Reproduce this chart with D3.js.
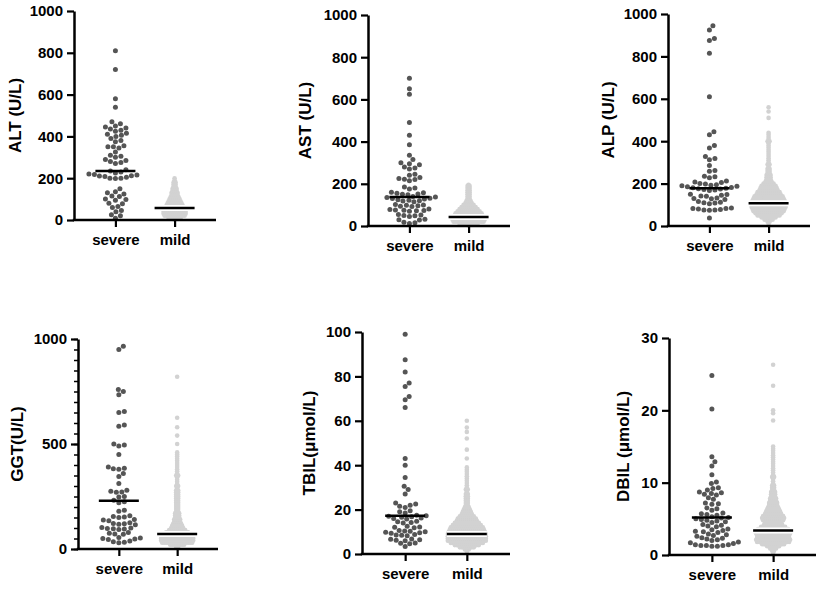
<!DOCTYPE html>
<html>
<head>
<meta charset="utf-8">
<script src="https://cdn.jsdelivr.net/npm/d3@7"></script>
<style>
  body { margin: 0; background: #fff; }
  text { font-family: Arial, "Liberation Sans", sans-serif; font-weight: bold; }
</style>
</head>
<body>
<div id="chart"></div>
<script>
// categories
const groups = ["severe", "mild"];

// severe: individual values
const altSevere = [810, 720, 580, 540, 470, 460, 450, 445, 440, 435, 430, 425, 415, 410, 405, 400, 390, 380, 375, 355, 350, 350, 345, 325, 310, 305, 300, 290, 285, 280, 275, 270, 240, 235, 230, 225, 220, 218, 215, 212, 210, 208, 205, 200, 200, 198, 150, 135, 130, 125, 115, 112, 100, 98, 95, 80, 78, 65, 60, 45, 40, 25, 20, 8];
const astSevere = [700, 650, 625, 490, 430, 385, 335, 315, 300, 295, 290, 280, 275, 270, 245, 240, 230, 225, 222, 220, 215, 185, 180, 175, 160, 158, 155, 152, 150, 148, 140, 138, 135, 132, 130, 128, 125, 122, 120, 118, 115, 102, 100, 98, 96, 94, 92, 80, 78, 76, 75, 73, 72, 70, 55, 52, 50, 48, 45, 32, 30, 28, 18, 15, 12];
const alpSevere = [945, 925, 885, 875, 815, 610, 445, 430, 380, 368, 328, 318, 312, 285, 262, 258, 235, 232, 228, 212, 208, 205, 200, 198, 195, 192, 190, 188, 185, 182, 180, 178, 176, 175, 172, 170, 168, 150, 148, 145, 142, 140, 132, 130, 128, 125, 115, 112, 110, 108, 105, 85, 83, 82, 80, 78, 76, 75, 74, 38];
const ggtSevere = [965, 950, 760, 750, 735, 655, 650, 590, 585, 500, 495, 490, 450, 390, 385, 382, 380, 360, 345, 312, 280, 275, 272, 270, 250, 248, 232, 225, 220, 185, 180, 158, 155, 152, 150, 140, 138, 135, 125, 122, 120, 118, 115, 102, 100, 98, 97, 95, 93, 78, 75, 72, 70, 55, 52, 50, 48, 45, 38, 35, 32, 30];
const tbilSevere = [99, 87.5, 82, 77, 75.5, 71, 69.5, 66, 43, 40, 34.5, 30.5, 29, 27, 23, 22.5, 22, 21.5, 21, 19.5, 19, 18.5, 17.5, 17.2, 17, 16.8, 16.5, 16.2, 16, 15.8, 14.8, 14.5, 14.2, 14, 12.5, 12.2, 12, 11.8, 10.6, 10.4, 10.2, 10, 9.8, 9.6, 9.4, 8.8, 8.6, 8.4, 8.2, 6.8, 6.6, 6.4, 6.2, 6, 5, 4.8, 4.6, 3.4];
const dbilSevere = [24.8, 20.2, 13.6, 12.9, 12.3, 11.1, 10.1, 9.9, 9.3, 9.2, 9.0, 8.7, 8.6, 8.5, 8.4, 8.3, 7.9, 7.7, 7.2, 7.1, 7.0, 6.5, 6.4, 6.2, 5.8, 5.7, 5.6, 5.5, 5.3, 5.2, 5.1, 5.0, 4.9, 4.8, 4.7, 4.6, 4.5, 4.2, 4.1, 4.0, 3.9, 3.6, 3.5, 3.4, 3.3, 3.2, 3.1, 2.9, 2.8, 2.7, 2.6, 2.4, 2.3, 2.2, 2.1, 2.0, 1.8, 1.7, 1.6, 1.4, 1.4, 1.3, 1.3, 1.3, 1.2, 1.2];

const altMild = [[200,1],[190,1],[180,2],[170,2],[160,2],[150,3],[140,3],[130,4],[120,4],[110,5],[100,6],[90,7],[80,8],[70,9],[60,10],[50,11],[40,12],[30,12],[20,11],[10,7],[2,1]];
const astMild = [[195,1],[190,2],[180,2],[170,2],[160,2],[150,2],[140,2],[130,2],[120,3],[110,4],[100,6],[90,8],[80,10],[70,12],[60,14],[50,15],[40,16],[30,17],[20,16],[10,10],[2,1]];
const alpMild = [[560,1],[540,1],[510,1],[440,1],[430,1],[420,1],[410,1],[400,2],[390,1],[380,1],[370,1],[360,1],[350,1],[340,1],[330,1],[320,1],[310,1],[300,1],[290,2],[280,1],[270,2],[260,2],[250,2],[240,3],[230,3],[220,3],[210,4],[200,6],[190,8],[180,9],[170,10],[160,12],[150,13],[140,15],[130,16],[120,17],[110,18],[100,18],[90,18],[80,17],[70,16],[60,14],[50,12],[40,8],[30,5],[20,2],[10,1]];
const ggtMild = [[820,1],[625,1],[580,1],[540,1],[500,1],[460,1],[450,1],[440,1],[430,1],[420,1],[410,1],[400,1],[390,1],[380,1],[370,1],[360,1],[350,2],[340,1],[330,1],[320,1],[310,1],[300,2],[290,1],[280,2],[270,2],[260,2],[250,2],[240,2],[230,2],[220,2],[210,2],[200,2],[190,2],[180,2],[170,3],[160,3],[150,3],[140,4],[130,4],[120,5],[110,6],[100,7],[90,9],[80,12],[70,15],[60,17],[50,17],[40,17],[30,16],[20,8],[10,2]];
const tbilMild = [[60,1],[57,1],[55,1],[52,1],[47,1],[43,1],[39,1],[38,1],[37,1],[36,1],[35,1],[34,1],[33,1],[32,1],[31,1],[30,1],[29,2],[28,1],[27,2],[26,2],[25,2],[24,2],[23,2],[22,2],[21,3],[20,4],[19,5],[18,6],[17,8],[16,10],[15,11],[14,13],[13,15],[12,17],[11,18],[10,19],[9,20],[8,20],[7,20],[6,20],[5,17],[4,13],[3,8],[2,3],[1,1]];
const dbilMild = [[26.3,1],[23.4,1],[20.0,1],[19.6,1],[18.6,1],[15.0,1],[14.7,1],[14.4,1],[14.1,1],[13.8,1],[13.5,1],[13.2,1],[12.9,1],[12.6,1],[12.3,1],[12.0,1],[11.7,1],[11.4,1],[11.1,1],[10.8,2],[10.5,1],[10.2,1],[9.9,1],[9.6,2],[9.3,2],[9.0,2],[8.7,3],[8.4,3],[8.1,3],[7.8,4],[7.5,4],[7.2,5],[6.9,5],[6.6,6],[6.3,7],[6.0,8],[5.7,9],[5.4,11],[5.1,12],[4.8,11],[4.5,9],[4.2,10],[3.9,13],[3.6,16],[3.3,18],[3.0,18],[2.7,17],[2.4,17],[2.1,18],[1.8,17],[1.5,12],[1.2,7],[0.9,4],[0.6,2],[0.3,1],[0.1,1]];

// medians (severe, mild)
const medians = {
  ALT: [235, 57], AST: [138, 43], ALP: [178, 107],
  GGT: [230, 72], TBIL: [17.2, 9], DBIL: [5.2, 3.4]
};

// axis ticks
const ticksALT = [0, 200, 400, 600, 800, 1000];
const ticksGGT = [0, 500, 1000];
const minorGGT = d3.range(0, 1001, 50);
const ticksTBIL = [0, 20, 40, 60, 80, 100];
const ticksDBIL = [0, 10, 20, 30];

const panels = [
  { key: "ALT", label: "ALT (U/L)", max: 1000, ticks: ticksALT, severe: altSevere, mild: altMild,
    x0: 74, x1: 216, top: 11, bottom: 220, labelX: 15 },
  { key: "AST", label: "AST (U/L)", max: 1000, ticks: ticksALT, severe: astSevere, mild: astMild,
    x0: 368, x1: 510, top: 15, bottom: 226, labelX: 305 },
  { key: "ALP", label: "ALP (U/L)", max: 1000, ticks: ticksALT, severe: alpSevere, mild: alpMild,
    x0: 668, x1: 810, top: 14, bottom: 226, labelX: 608 },
  { key: "GGT", label: "GGT(U/L)", max: 1000, ticks: ticksGGT, minor: minorGGT, severe: ggtSevere, mild: ggtMild,
    x0: 78, x1: 218, top: 339, bottom: 549, labelX: 17 },
  { key: "TBIL", label: "TBIL(μmol/L)", max: 100, ticks: ticksTBIL, severe: tbilSevere, mild: tbilMild,
    x0: 362, x1: 510, top: 332, bottom: 554, labelX: 309 },
  { key: "DBIL", label: "DBIL (μmol/L)", max: 30, ticks: ticksDBIL, severe: dbilSevere, mild: dbilMild,
    x0: 669, x1: 816, top: 338, bottom: 555, labelX: 623 }
];

const svg = d3.select("#chart")
  .append("svg")
  .attr("width", 829)
  .attr("height", 591);

// simple beeswarm: push each point sideways until it doesn't hit one already placed
function swarm(values, y, minDist) {
  const placed = [];
  values.slice().sort((a, b) => a - b).forEach(v => {
    const py = y(v);
    let off = 0;
    for (let k = 0; k < 400; k++) {
      const cand = k === 0 ? 0 : (k % 2 ? 1 : -1) * Math.ceil(k / 2) * 0.5;
      if (placed.every(p => (p.x - cand) ** 2 + (p.y - py) ** 2 >= minDist * minDist)) { off = cand; break; }
    }
    placed.push({ x: off, y: py });
  });
  return placed;
}

panels.forEach(p => {
  const g = svg.append("g");

  const x = d3.scalePoint()
    .domain(groups)
    .range([p.x0, p.x1])
    .padding(0.7);

  const y = d3.scaleLinear()
    .domain([0, p.max])
    .range([p.bottom, p.top]);

  // mild points: rows of overlapping dots
  const mildPts = [];
  p.mild.forEach(([v, n]) => {
    for (let i = 0; i < n; i++) mildPts.push({ x: x("mild") + (i - (n - 1) / 2) * 2, y: y(v) });
  });
  g.append("g")
    .selectAll("circle")
    .data(mildPts)
    .join("circle")
    .attr("cx", d => d.x)
    .attr("cy", d => d.y)
    .attr("r", 2.3)
    .attr("fill", "#d2d2d2");

  // severe points
  g.append("g")
    .selectAll("circle")
    .data(swarm(p.severe, y, 5.2))
    .join("circle")
    .attr("cx", d => x("severe") + d.x)
    .attr("cy", d => d.y)
    .attr("r", 2.5)
    .attr("fill", "#555555");

  // median lines
  const med = medians[p.key];
  g.append("line")
    .attr("x1", x("mild") - 20).attr("x2", x("mild") + 20)
    .attr("y1", y(med[1])).attr("y2", y(med[1]))
    .attr("stroke", "#fff").attr("stroke-width", 6);
  groups.forEach((grp, i) => {
    g.append("line")
      .attr("x1", x(grp) - 20).attr("x2", x(grp) + 20)
      .attr("y1", y(med[i])).attr("y2", y(med[i]))
      .attr("stroke", "#000").attr("stroke-width", 2.5);
  });

  // minor ticks (GGT only)
  if (p.minor) {
    g.append("g")
      .attr("transform", `translate(${p.x0},0)`)
      .call(d3.axisLeft(y).tickValues(p.minor).tickSize(4).tickFormat(""))
      .call(a => a.select(".domain").remove())
      .call(a => a.selectAll("line").attr("stroke-width", 1.5));
  }

  // y axis
  const yAxis = g.append("g")
    .attr("transform", `translate(${p.x0},0)`)
    .call(d3.axisLeft(y).tickValues(p.ticks).tickFormat(d3.format("d"))
      .tickSize(7).tickPadding(4).tickSizeOuter(0));
  yAxis.select(".domain").attr("stroke-width", 2.5);
  yAxis.selectAll("line").attr("stroke-width", 2.2);
  yAxis.selectAll("text").style("font-size", "15px").attr("fill", "#000");

  // x axis
  const xAxis = g.append("g")
    .attr("transform", `translate(0,${p.bottom})`)
    .call(d3.axisBottom(x).tickSize(7).tickPadding(7).tickSizeOuter(0));
  xAxis.select(".domain").attr("d", `M${p.x0 - 1.2},0H${p.x1}`).attr("stroke-width", 2.5);
  xAxis.selectAll("line").attr("stroke-width", 2.2);
  xAxis.selectAll("text").style("font-size", "15px").attr("fill", "#000");

  // y label
  g.append("text")
    .attr("transform", `translate(${p.labelX},${(p.top + p.bottom) / 2}) rotate(-90)`)
    .attr("text-anchor", "middle")
    .attr("dy", "0.35em")
    .style("font-size", "17px")
    .text(p.label);
});
</script>
</body>
</html>
